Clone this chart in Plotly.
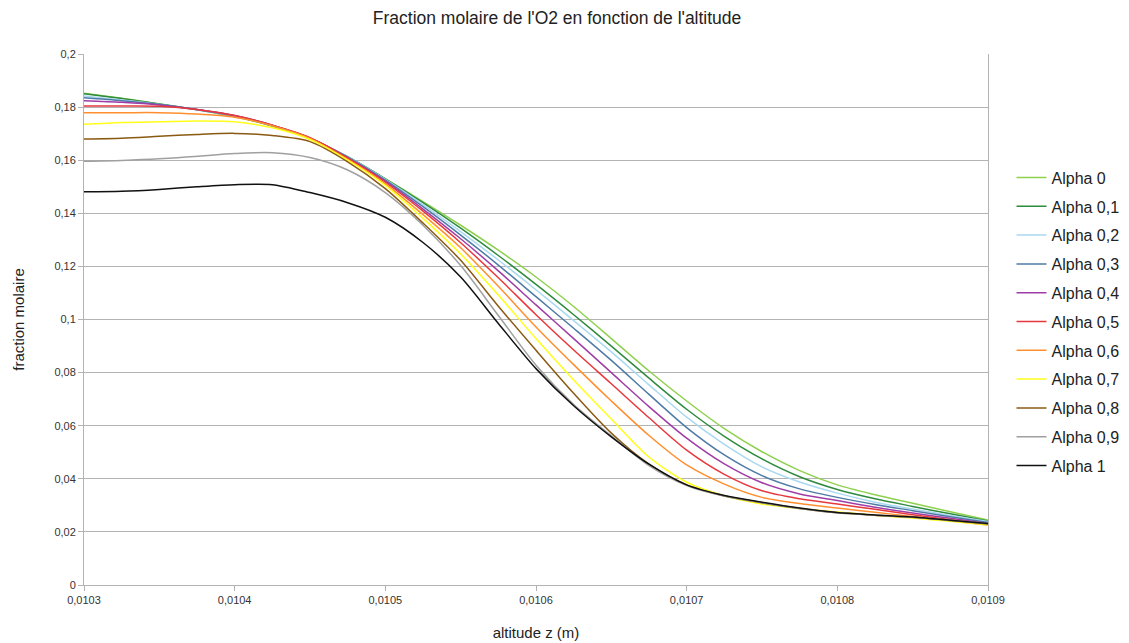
import plotly.graph_objects as go

# Altitude grid (m), step 2.5e-6
altitude = [0.0103, 0.010325, 0.01035, 0.010375, 0.0104, 0.010425, 0.01045,
            0.010475, 0.0105, 0.010525, 0.01055, 0.010575, 0.0106, 0.010625,
            0.01065, 0.010675, 0.0107, 0.010725, 0.01075, 0.010775, 0.0108,
            0.010825, 0.01085, 0.010875, 0.0109]

# O2 mole fraction for each alpha value
alpha_0 = [0.1852, 0.1833, 0.1812, 0.1790, 0.1764, 0.1729, 0.1680, 0.1612, 0.1530, 0.1444, 0.1355, 0.1261, 0.1160,
           0.1049, 0.0928, 0.0806, 0.0693, 0.0589, 0.0502, 0.0431, 0.0377, 0.0340, 0.0308, 0.0276, 0.0245]
alpha_01 = [0.1850, 0.1832, 0.1812, 0.1790, 0.1765, 0.1729, 0.1681, 0.1613, 0.1530, 0.1440, 0.1344, 0.1241, 0.1132,
            0.1018, 0.0900, 0.0779, 0.0662, 0.0560, 0.0475, 0.0408, 0.0360, 0.0325, 0.0296, 0.0268, 0.0241]
alpha_02 = [0.1842, 0.1827, 0.1810, 0.1790, 0.1766, 0.1730, 0.1682, 0.1612, 0.1528, 0.1433, 0.1331, 0.1224, 0.1112,
            0.0996, 0.0878, 0.0754, 0.0632, 0.0530, 0.0445, 0.0388, 0.0346, 0.0312, 0.0286, 0.0262, 0.0239]
alpha_03 = [0.1835, 0.1824, 0.1810, 0.1791, 0.1767, 0.1731, 0.1683, 0.1611, 0.1525, 0.1425, 0.1318, 0.1205, 0.1086,
            0.0967, 0.0846, 0.0718, 0.0593, 0.0490, 0.0412, 0.0362, 0.0330, 0.0303, 0.0280, 0.0257, 0.0235]
alpha_04 = [0.1824, 0.1818, 0.1808, 0.1791, 0.1768, 0.1732, 0.1684, 0.1610, 0.1521, 0.1416, 0.1304, 0.1183, 0.1055,
            0.0928, 0.0800, 0.0672, 0.0553, 0.0456, 0.0385, 0.0343, 0.0318, 0.0293, 0.0271, 0.0251, 0.0232]
alpha_05 = [0.1804, 0.1804, 0.1803, 0.1791, 0.1768, 0.1732, 0.1685, 0.1608, 0.1517, 0.1408, 0.1289, 0.1157, 0.1018,
            0.0885, 0.0758, 0.0630, 0.0508, 0.0417, 0.0355, 0.0325, 0.0305, 0.0285, 0.0265, 0.0246, 0.0228]
alpha_06 = [0.1779, 0.1779, 0.1779, 0.1774, 0.1762, 0.1730, 0.1682, 0.1603, 0.1511, 0.1395, 0.1270, 0.1125, 0.0972,
            0.0830, 0.0693, 0.0563, 0.0452, 0.0380, 0.0330, 0.0307, 0.0290, 0.0274, 0.0258, 0.0242, 0.0226]
alpha_07 = [0.1735, 0.1742, 0.1745, 0.1748, 0.1745, 0.1722, 0.1678, 0.1600, 0.1505, 0.1381, 0.1247, 0.1092, 0.0928,
            0.0772, 0.0625, 0.0482, 0.0387, 0.0336, 0.0305, 0.0288, 0.0275, 0.0263, 0.0252, 0.0240, 0.0227]
alpha_08 = [0.1680, 0.1683, 0.1690, 0.1697, 0.1701, 0.1693, 0.1670, 0.1594, 0.1493, 0.1363, 0.1223, 0.1050, 0.0884,
            0.0722, 0.0572, 0.0455, 0.0377, 0.0335, 0.0310, 0.0288, 0.0272, 0.0263, 0.0255, 0.0243, 0.0230]
alpha_09 = [0.1596, 0.1599, 0.1605, 0.1615, 0.1625, 0.1628, 0.1610, 0.1563, 0.1478, 0.1355, 0.1203, 0.1015, 0.0828,
            0.0680, 0.0562, 0.0450, 0.0375, 0.0335, 0.0310, 0.0288, 0.0272, 0.0263, 0.0255, 0.0244, 0.0232]
alpha_1 = [0.1481, 0.1483, 0.1490, 0.1500, 0.1508, 0.1508, 0.1478, 0.1440, 0.1385, 0.1290, 0.1160, 0.0985, 0.0815,
           0.0675, 0.0558, 0.0455, 0.0377, 0.0337, 0.0312, 0.0290, 0.0273, 0.0264, 0.0256, 0.0244, 0.0232]

names = ["Alpha 0", "Alpha 0,1", "Alpha 0,2", "Alpha 0,3", "Alpha 0,4", "Alpha 0,5",
         "Alpha 0,6", "Alpha 0,7", "Alpha 0,8", "Alpha 0,9", "Alpha 1"]
series = [alpha_0, alpha_01, alpha_02, alpha_03, alpha_04, alpha_05,
          alpha_06, alpha_07, alpha_08, alpha_09, alpha_1]
colors = ["#8fd14f", "#2e8b3e", "#a9d9f0", "#4e7aa6", "#a03ca6", "#e8383d",
          "#ff8f2e", "#ffff1a", "#8a5a12", "#a0a0a0", "#111111"]

x_ticks = [0.0103, 0.0104, 0.0105, 0.0106, 0.0107, 0.0108, 0.0109]

fig = go.Figure()
for name, vals, col in zip(names, series, colors):
    fig.add_trace(go.Scatter(
        x=altitude, y=vals, name=name, mode="lines",
        line=dict(color=col, width=1.5, shape="spline", smoothing=0.8),
        legendgroup=name,
    ))

grid_col = "#b3b3b3"
fig.update_layout(
    width=1129, height=643,
    margin=dict(l=84, r=141, t=54, b=58, autoexpand=False),
    paper_bgcolor="white", plot_bgcolor="white",
    separators=", ",
    font=dict(family="Liberation Sans, Arial, sans-serif", color="#222222"),
    title=dict(text="Fraction molaire de l'O2 en fonction de l'altitude",
               x=0.4934, xanchor="center", y=0.972, yanchor="middle",
               font=dict(size=17.5, color="#222222")),
    legend=dict(x=1.026, xanchor="left", y=0.496, yanchor="middle",
                font=dict(size=16, color="#222222"),
                tracegroupgap=5, itemwidth=30, bgcolor="rgba(0,0,0,0)"),
    showlegend=True,
)
fig.update_xaxes(
    range=[0.0103, 0.0109], tickvals=x_ticks, tickformat=".4f",
    showgrid=False, zeroline=False,
    showline=True, linecolor=grid_col, linewidth=1,
    ticks="outside", ticklen=5, tickcolor=grid_col,
    tickfont=dict(size=11, color="#333333"),
    title=dict(text="altitude z (m)", font=dict(size=15, color="#222222"), standoff=22),
)
fig.update_yaxes(
    range=[0, 0.2], dtick=0.02,
    showgrid=True, gridcolor=grid_col, gridwidth=1, zeroline=False,
    showline=True, linecolor=grid_col, linewidth=1, mirror=True,
    ticks="outside", ticklen=5, tickcolor=grid_col,
    tickfont=dict(size=11, color="#333333"),
    title=dict(text="fraction molaire", font=dict(size=15, color="#222222"), standoff=26),
)

fig.write_html("out.html")
